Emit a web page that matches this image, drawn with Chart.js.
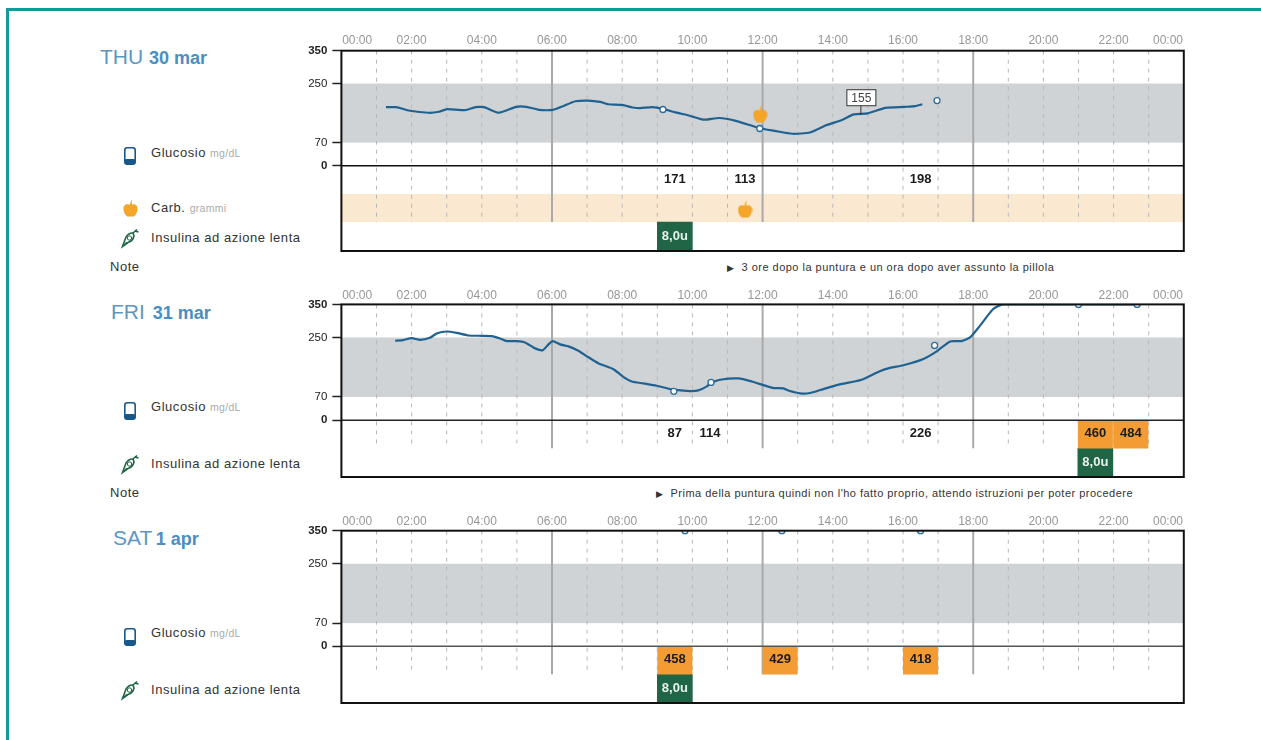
<!DOCTYPE html>
<html lang="it">
<head>
<meta charset="utf-8">
<title>Diario glicemia</title>
<script src="https://cdn.jsdelivr.net/npm/chart.js@4"></script>
<style>
html,body{margin:0;padding:0;background:#fff;width:1261px;height:740px;overflow:hidden;font-family:"Liberation Sans",Arial,sans-serif}
#frameTop{position:absolute;left:6px;top:8px;width:1255px;height:3px;background:#0f9c98}
#frameLeft{position:absolute;left:6px;top:8px;width:3px;height:732px;background:#0f9c98}
canvas{position:absolute;left:300px;display:block}
.t{position:absolute;white-space:nowrap;line-height:1}
.day{font-size:21px;color:#5c97c4}
.day b{color:#4a8ec2;font-size:18px}
.lab{font-size:13px;letter-spacing:.54px;color:#333}
.lab span{font-size:10.5px;letter-spacing:.3px;color:#aaa}
.note{font-size:11px;letter-spacing:.48px;color:#333}
svg{position:absolute;overflow:visible}
</style>
</head>
<body>
<div id="frameTop"></div><div id="frameLeft"></div>
<div id="overlay"></div>
<canvas id="c1" width="900" height="231" style="top:24px"></canvas>
<canvas id="c2" width="900" height="203" style="top:278px"></canvas>
<canvas id="c3" width="900" height="203" style="top:504px"></canvas>
<script>
// ---- axis content
const xTickPositions = [0.45, 2, 4, 6, 8, 10, 12, 14, 16, 18, 20, 22, 23.55];
const xTickLabels = ["00:00","02:00","04:00","06:00","08:00","10:00","12:00","14:00","16:00","18:00","20:00","22:00","00:00"];
const yTickValues = [350, 250, 70, 0];
const dashedHours = [1,2,3,4,5,7,8,9,10,11,13,14,15,16,17,19,20,21,22,23];
const solidHours = [6,12,18];
const targetBand = [70, 250];
const carbBand = [-172, -86];

// ---- Thursday 30 March
const hours1 = [1.27,1.56,1.95,2.48,2.78,3.01,3.52,3.82,4.06,4.49,4.98,5.27,5.63,6.03,6.31,6.67,7.03,7.37,7.6,8.0,8.3,8.51,8.85,9.16,9.52,9.92,10.31,10.76,11.21,11.92,12.34,12.85,13.35,13.81,14.26,14.6,14.99,15.5,16.06,16.34,16.55];
const glucose1 = [178,178,167,161,164,172,169,178,178,161,179,179,170,170,181,196,198,194,187,185,177,175,178,173,162,152,140,145,137,114,106,97,101,123,139,156,159,176,179,181,187];
const meterHours1 = [9.16,11.92,16.97];
const meterValues1 = [171,113,198];
const meterLabelHours1 = [9.5,11.5,16.5];
const meterLabels1 = ["171","113","198"];
const highHours1 = [];
const highLabels1 = [];
const insulinHours1 = [9.5];
const insulinLabels1 = ["8,0u"];
const appleHours1 = [11.93,11.5];
const appleValues1 = [158,-132];
const calloutHour = 14.8;
const calloutValue = 155;

// ---- Friday 31 March
const hours2 = [1.53,1.76,2.0,2.24,2.52,2.73,3.0,3.28,3.62,4.0,4.28,4.52,4.71,5.0,5.23,5.52,5.73,5.9,6.02,6.23,6.47,6.75,7.04,7.32,7.75,8.03,8.27,8.6,8.98,9.46,9.93,10.17,10.41,10.55,10.79,11.31,11.69,12.02,12.31,12.59,12.78,13.07,13.35,13.64,14.11,14.49,14.82,15.34,15.63,16.01,16.58,16.96,17.34,17.67,17.91,18.19,18.57,18.85,21.0,22.67];
const glucose2 = [240,242,248,243,249,263,268,264,256,255,254,247,239,239,235,217,211,229,239,229,223,210,190,172,154,131,117,111,104,92,88,90,102,113,122,126,117,106,97,96,88,81,82,91,106,114,122,148,158,166,185,208,238,239,250,285,336,350,350,350];
const meterHours2 = [9.47,10.53,16.9,21.0,22.67];
const meterValues2 = [87,114,226,350,350];
const meterLabelHours2 = [9.5,10.5,16.5];
const meterLabels2 = ["87","114","226"];
const highHours2 = [21.48,22.49];
const highLabels2 = ["460","484"];
const insulinHours2 = [21.48];
const insulinLabels2 = ["8,0u"];

// ---- Saturday 1 April
const hours3 = [];
const glucose3 = [];
const meterHours3 = [9.79,12.55,16.5];
const meterValues3 = [350,350,350];
const meterLabelHours3 = [];
const meterLabels3 = [];
const highHours3 = [9.5,12.5,16.5];
const highLabels3 = ["458","429","418"];
const insulinHours3 = [9.5];
const insulinLabels3 = ["8,0u"];

// ---- apple marker used as a Chart.js point style
function appleSprite(){
  const c=document.createElement('canvas');c.width=15;c.height=18;
  const g=c.getContext('2d');
  g.fillStyle='#f3a62a';
  g.beginPath();
  g.moveTo(7.5,6);
  g.bezierCurveTo(11,4,15,6,14.6,10);
  g.bezierCurveTo(14.4,14,11.5,18,9.5,17.6);
  g.lineTo(5.5,17.6);
  g.bezierCurveTo(3.5,18,0.6,14,0.4,10);
  g.bezierCurveTo(0,6,4,4,7.5,6);
  g.fill();
  g.beginPath();g.moveTo(6.8,6);g.quadraticCurveTo(7.5,2.5,9,0.3);g.lineTo(8.8,6);g.fill();
  return c;
}
const apple=appleSprite();

function segments(hours,lo,hi){
  const out=[];
  hours.forEach(h=>{out.push({x:h,y:hi},{x:h,y:lo},{x:h,y:null});});
  return out;
}

const panelPlugin={
  id:'panel',
  beforeDatasetsDraw(chart,_a,o){
    const {ctx,chartArea:a,scales:{y}}=chart;
    ctx.save();
    ctx.fillStyle='#cfd3d6';
    ctx.fillRect(a.left,y.getPixelForValue(targetBand[1]),a.width,y.getPixelForValue(targetBand[0])-y.getPixelForValue(targetBand[1]));
    if(o.carb){
      ctx.fillStyle='#fbe8d0';
      ctx.fillRect(a.left,y.getPixelForValue(carbBand[1]),a.width,y.getPixelForValue(carbBand[0])-y.getPixelForValue(carbBand[1]));
    }
    ctx.restore();
  },
  afterDatasetsDraw(chart,_a,o){
    const {ctx,chartArea:a,scales:{x,y}}=chart;
    ctx.save();
    ctx.strokeStyle=o.zeroColor;ctx.lineWidth=1.5;
    const z=y.getPixelForValue(0);
    ctx.beginPath();ctx.moveTo(a.left,z);ctx.lineTo(a.right,z);ctx.stroke();
    ctx.strokeStyle='#111';ctx.lineWidth=2;
    ctx.strokeRect(a.left,a.top,a.width,a.height);
    ctx.textAlign='center';ctx.textBaseline='middle';
    ctx.font='bold 13px "Liberation Sans"';
    ctx.fillStyle='#1c1c1c';
    const ly=y.getPixelForValue(o.labelValue);
    o.meterHours.forEach((h,i)=>ctx.fillText(o.meterLabels[i],x.getPixelForValue(h),ly));
    o.highHours.forEach((h,i)=>ctx.fillText(o.highLabels[i],x.getPixelForValue(h),ly));
    ctx.fillStyle='#e8f2ec';
    const iy=y.getPixelForValue(o.insulinValue);
    o.insulinHours.forEach((h,i)=>ctx.fillText(o.insulinLabels[i],x.getPixelForValue(h),iy));
    if(o.callout){
      const cx=x.getPixelForValue(o.callout.hour), cy=y.getPixelForValue(o.callout.value);
      ctx.strokeStyle='#333';ctx.lineWidth=1;ctx.fillStyle='#fff';
      ctx.beginPath();ctx.moveTo(cx,cy);ctx.lineTo(cx,cy-9);ctx.stroke();
      ctx.fillRect(cx-14,cy-25,29,16);ctx.strokeRect(cx-14,cy-25,29,16);
      ctx.fillStyle='#444';ctx.font='12px "Liberation Sans"';
      ctx.fillText(String(o.callout.value),cx+0.5,cy-16.5);
    }
    ctx.restore();
  }
};

function makePanel(id,p){
  const rowLo=p.lineEnd, mid=p.midRow;
  const datasets=[
    {type:'line',label:'Glucosio',data:p.hours.map((h,i)=>({x:h,y:p.glucose[i]})),borderColor:'#1f6291',borderWidth:2.2,pointRadius:0,tension:0.2,order:2},
    {type:'line',label:'Misurazioni',data:p.meterHours.map((h,i)=>({x:h,y:p.meterValues[i]})),showLine:false,pointStyle:'circle',pointRadius:3,pointBorderWidth:1.3,pointBackgroundColor:'#fff',pointBorderColor:'#2a6c9a',order:1},
    {type:'bar',label:'Glucosio alto',data:p.highHours.map(h=>({x:h,y:[mid,0]})),backgroundColor:'#f39c34',barThickness:34.4,grouped:false,order:3},
    {type:'bar',label:'Insulina',data:p.insulinHours.map(h=>({x:h,y:[p.yMin,mid]})),backgroundColor:'#1f6546',barThickness:35,grouped:false,order:3},
    {type:'line',label:'Griglia',data:segments(dashedHours,rowLo,350),borderColor:'#b8b8b8',borderWidth:1,borderDash:[4,5],pointRadius:0,spanGaps:false,order:5},
    {type:'line',label:'Griglia 6h',data:segments(solidHours,rowLo,350),borderColor:'#a9a9a9',borderWidth:2,pointRadius:0,spanGaps:false,order:4}
  ];
  if(p.appleHours){
    datasets.push({type:'line',label:'Carb.',data:p.appleHours.map((h,i)=>({x:h,y:p.appleValues[i]})),showLine:false,pointStyle:apple,pointRadius:8,order:0});
  }
  return new Chart(document.getElementById(id),{
    type:'line',
    data:{datasets},
    plugins:[panelPlugin],
    options:{
      responsive:false,animation:false,
      layout:{autoPadding:false,padding:{top:0,left:0,right:16.2,bottom:4}},
      plugins:{
        legend:{display:false},tooltip:{enabled:false},
        panel:{carb:p.carb,zeroColor:p.zeroColor,labelValue:p.labelValue,insulinValue:(p.yMin+mid)/2,
          meterHours:p.meterLabelHours,meterLabels:p.meterLabels,highHours:p.highHours,highLabels:p.highLabels,
          insulinHours:p.insulinHours,insulinLabels:p.insulinLabels,callout:p.callout}
      },
      scales:{
        x:{type:'linear',position:'top',min:0,max:24,offset:false,
          grid:{display:false,drawTicks:false,offset:false},border:{display:false},
          afterBuildTicks(s){s.ticks=xTickPositions.map(v=>({value:v}));},
          afterFit(s){s.height=p.axisHeight;s.paddingLeft=0;s.paddingRight=0;s.paddingTop=0;s.paddingBottom=0;},
          ticks:{autoSkip:false,maxRotation:0,padding:p.tickPad,color:'#979797',font:{family:'Liberation Sans',size:12},
            callback(v){return xTickLabels[xTickPositions.indexOf(v)];}}
        },
        y:{type:'linear',min:p.yMin,max:350,
          grid:{drawOnChartArea:false,drawTicks:true,tickLength:9,tickColor:'#222',tickWidth:1.5},border:{display:false},
          afterBuildTicks(s){s.ticks=yTickValues.map(v=>({value:v}));},
          afterFit(s){s.width=41.4;s.paddingLeft=0;s.paddingRight=0;s.paddingTop=0;s.paddingBottom=0;},
          ticks:{autoSkip:false,padding:5,color:'#222',
            font(c){const b=c.tick&&(c.tick.value===350||c.tick.value===0);return {family:'Liberation Sans',size:11.5,weight:b?'bold':'normal'};},
            callback(v){return String(v);}}
        }
      }
    }
  });
}

makePanel('c1',{axisHeight:26.7,tickPad:3,yMin:-260,midRow:-172,lineEnd:-172,labelValue:-41,carb:true,zeroColor:'#111',
  hours:hours1,glucose:glucose1,meterHours:meterHours1,meterValues:meterValues1,meterLabelHours:meterLabelHours1,meterLabels:meterLabels1,
  highHours:highHours1,highLabels:highLabels1,insulinHours:insulinHours1,insulinLabels:insulinLabels1,
  appleHours:appleHours1,appleValues:appleValues1,callout:{hour:calloutHour,value:calloutValue}});
makePanel('c2',{axisHeight:26.4,tickPad:1.5,yMin:-172,midRow:-85,lineEnd:-85,labelValue:-41,carb:false,zeroColor:'#222',
  hours:hours2,glucose:glucose2,meterHours:meterHours2,meterValues:meterValues2,meterLabelHours:meterLabelHours2,meterLabels:meterLabels2,
  highHours:highHours2,highLabels:highLabels2,insulinHours:insulinHours2,insulinLabels:insulinLabels2});
makePanel('c3',{axisHeight:26.7,tickPad:1.5,yMin:-172,midRow:-85,lineEnd:-85,labelValue:-41,carb:false,zeroColor:'#555',
  hours:hours3,glucose:glucose3,meterHours:meterHours3,meterValues:meterValues3,meterLabelHours:meterLabelHours3,meterLabels:meterLabels3,
  highHours:highHours3,highLabels:highLabels3,insulinHours:insulinHours3,insulinLabels:insulinLabels3});

// ---- left-hand captions and icons
const phoneSvg=(x,y)=>`<svg style="left:${x}px;top:${y}px" width="12" height="18" viewBox="0 0 12 18"><rect x="0.8" y="0.8" width="10.4" height="16.4" rx="2.4" fill="#fff" stroke="#16578c" stroke-width="1.6"/><rect x="0.8" y="12" width="10.4" height="5.2" rx="1.6" fill="#16578c"/></svg>`;
const appleSvg=(x,y)=>`<svg style="left:${x}px;top:${y}px" width="15" height="18" viewBox="0 0 15 18"><path d="M7.5 6 C11 4 15 6 14.6 10 C14.4 14 11.5 18 9.5 17.6 L5.5 17.6 C3.5 18 .6 14 .4 10 C0 6 4 4 7.5 6Z M6.8 6 Q7.5 2.5 9 .3 L8.8 6Z" fill="#f3a62a"/></svg>`;
const penSvg=(x,y)=>`<svg style="left:${x}px;top:${y}px" width="17" height="18" viewBox="0 0 17 18"><path d="M0.5 17.5 L4 8 Q7 3.5 11 4 L12 7 Q11 12 6 13.5Z" fill="#fff" stroke="#1f6546" stroke-width="1.6"/><circle cx="7.5" cy="9" r="2.2" fill="none" stroke="#1f6546"/><path d="M11 4 L15 0.5 M12.5 2 L16.5 3" stroke="#1f6546" stroke-width="1.6"/><path d="M0.5 17.5 L4 13 L6 13.5Z" fill="#1f6546"/></svg>`;
const captions=[
 ['day',100,46,'THU <b>30 mar</b>'],['day',111,301,'FRI <b style="margin-left:2px">31 mar</b>'],['day',113,527,'SAT <b style="margin-left:-2px">1 apr</b>'],
 ['lab',151,146,'Glucosio <span>mg/dL</span>'],['lab',151,201,'Carb. <span>grammi</span>'],['lab',151,231,'Insulina ad azione lenta'],['lab',110,260,'Note'],
 ['lab',151,400,'Glucosio <span>mg/dL</span>'],['lab',151,457,'Insulina ad azione lenta'],['lab',110,486,'Note'],
 ['lab',151,626,'Glucosio <span>mg/dL</span>'],['lab',151,683,'Insulina ad azione lenta'],
 ['note',727,262,'<span style="font-size:9px">&#9654;</span>&nbsp; 3 ore dopo la puntura e un ora dopo aver assunto la pillola'],
 ['note',656,488,'<span style="font-size:9px">&#9654;</span>&nbsp; Prima della puntura quindi non l\'ho fatto proprio, attendo istruzioni per poter procedere']
];
let html=captions.map(c=>`<div class="t ${c[0]}" style="left:${c[1]}px;top:${c[2]}px">${c[3]}</div>`).join('');
html+=phoneSvg(124,147)+appleSvg(123,199)+penSvg(122,229)+phoneSvg(124,402)+penSvg(122,455)+phoneSvg(124,628)+penSvg(122,681);
document.getElementById('overlay').innerHTML=html;
</script>
</body>
</html>
